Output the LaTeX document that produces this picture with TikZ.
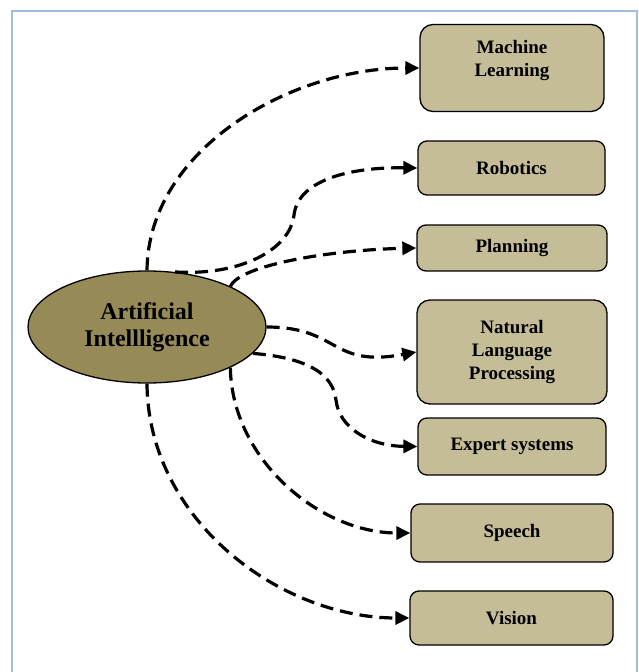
\documentclass[tikz,border=0pt]{standalone}
\usepackage{fontspec}
\setmainfont{Liberation Serif}
\usetikzlibrary{arrows.meta,shapes.geometric}
\definecolor{framecol}{RGB}{160,188,222}
\definecolor{olivecol}{RGB}{150,139,86}
\definecolor{tancol}{RGB}{196,189,151}
\begin{document}
\begin{tikzpicture}[x=1pt,y=-1pt,
  hub node/.style={ellipse,draw,line width=1.3pt,fill=olivecol,inner sep=0pt,
    minimum width=238pt,minimum height=112pt,align=center,
    font=\bfseries\fontsize{24}{27}\selectfont},
  topic node/.style={rectangle,draw,line width=1.3pt,fill=tancol,rounded corners=9pt,
    inner sep=0pt,align=center,font=\bfseries\fontsize{19}{23}\selectfont},
  link/.style={line width=3.2pt,dash pattern=on 13pt off 7pt,
    -{Triangle[length=14pt,width=13pt]}}]

  \useasboundingbox (0,0) rectangle (639,672);
  \draw[framecol,line width=1.5pt] (12,11) rectangle (637,700);

  \node[hub node] (ai) at (147,327) {Artificial\\Intellligence};

  \node[topic node,rounded corners=13pt,minimum width=184pt,minimum height=87pt] (ml) at (512,68) {Machine\\Learning\\[-4pt]};
  \node[topic node,minimum width=187pt,minimum height=54pt] (rob) at (511.5,168) {Robotics};
  \node[topic node,minimum width=190pt,minimum height=46pt] (plan) at (512,248) {Planning};
  \node[topic node,rounded corners=13pt,minimum width=190pt,minimum height=104pt] (nlp) at (512,352) {Natural\\Language\\Processing};
  \node[topic node,minimum width=188pt,minimum height=57pt] (exp) at (512,446.5) {Expert systems};
  \node[topic node,minimum width=202pt,minimum height=58pt] (speech) at (512,533) {Speech};
  \node[topic node,minimum width=203pt,minimum height=54pt] (vision) at (511.5,618) {Vision};

  % connectors from the hub
  \draw[link] (ai.north) .. controls (148,150) and (290,68) .. (ml.west);
  \draw[link] (ai.63) .. controls (240,276) and (290,250) .. (294,215)
    .. controls (298,180) and (350,167) .. (rob.west);
  \draw[link] (ai.26) .. controls (240,265) and (330,250) .. (plan.west);
  \draw[link] (ai.east) .. controls (340,327) and (330,368) .. (nlp.west);
  \draw[link] (ai.-14) .. controls (310,358) and (333,375) .. (336,400)
    .. controls (339,428) and (370,446) .. (exp.west);
  \draw[link] (ai.-26) .. controls (232,460) and (320,533) .. (speech.west);
  \draw[link] (ai.south) .. controls (148,520) and (280,618) .. (vision.west);
\end{tikzpicture}
\end{document}
